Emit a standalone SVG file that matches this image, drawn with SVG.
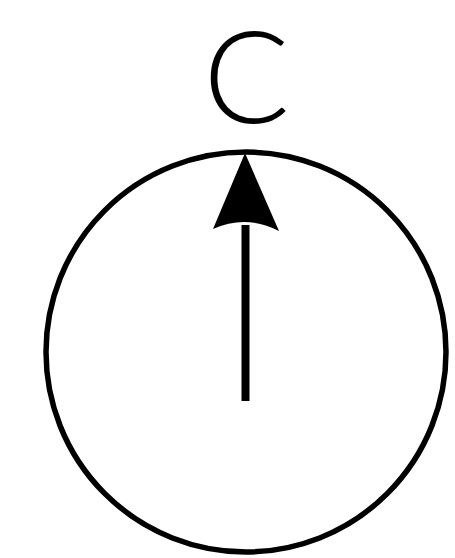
<svg xmlns="http://www.w3.org/2000/svg" width="455" height="558" viewBox="0 0 455 558">
<style>
.lbl{font-family:"Lato","Liberation Sans",Arial,sans-serif;font-weight:300;font-size:128px;fill:#000}
.ring{fill:none;stroke:#000;stroke-width:5.5}
.shaft{stroke:#000;stroke-width:8;fill:none}
</style>
<rect width="455" height="558" fill="#fff"/>
<g id="label"><text class="lbl" x="246.5" y="123" text-anchor="middle">C</text></g>
<g id="dial"><circle class="ring" cx="246" cy="352" r="200"/></g>
<g id="connectors">
<line class="shaft" x1="245.5" y1="401" x2="245.5" y2="225"/>
<path d="M245,153 L279,231 Q246,214 213,229 Z" fill="#000"/>
</g>
</svg>
